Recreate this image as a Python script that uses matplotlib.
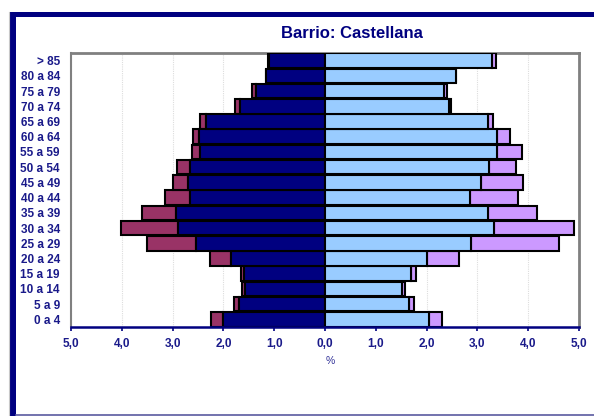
import matplotlib
matplotlib.use("Agg")
import matplotlib.pyplot as plt
from matplotlib.patches import Rectangle
from matplotlib.lines import Line2D
import numpy as np

plt.rcParams['font.family'] = ['Liberation Sans', 'DejaVu Sans']

# Age groups, bottom to top
ages = ["0 a 4", "5 a 9", "10 a 14", "15 a 19", "20 a 24", "25 a 29", "30 a 34",
        "35 a 39", "40 a 44", "45 a 49", "50 a 54", "55 a 59", "60 a 64",
        "65 a 69", "70 a 74", "75 a 79", "80 a 84", "> 85"]

# Men: inner (dark blue) and total (dark blue + maroon), %
men_inner = [2.01, 1.69, 1.57, 1.59, 1.86, 2.54, 2.89, 2.93, 2.66, 2.69, 2.66,
             2.46, 2.48, 2.34, 1.67, 1.36, 1.16, 1.10]
men_total = [2.25, 1.79, 1.63, 1.66, 2.26, 3.51, 4.02, 3.61, 3.14, 3.00, 2.92,
             2.62, 2.60, 2.46, 1.77, 1.44, 1.17, 1.12]

# Women: inner (light blue) and total (light blue + lilac), %
women_inner = [2.05, 1.66, 1.51, 1.69, 2.01, 2.87, 3.33, 3.20, 2.85, 3.08, 3.22,
               3.38, 3.38, 3.20, 2.45, 2.34, 2.58, 3.28]
women_total = [2.31, 1.76, 1.57, 1.80, 2.64, 4.61, 4.90, 4.17, 3.79, 3.89, 3.75,
               3.87, 3.64, 3.30, 2.48, 2.41, 2.58, 3.37]

xticks = [-5, -4, -3, -2, -1, 0, 1, 2, 3, 4, 5]
xticklabels = ["5,0", "4,0", "3,0", "2,0", "1,0", "0,0", "1,0", "2,0", "3,0", "4,0", "5,0"]

title = "Barrio: Castellana"

W, H = 594, 416
fig = plt.figure(figsize=(W / 100, H / 100), dpi=100)
fig.patch.set_facecolor('white')

navy = '#000080'
txt = '#1a1a8a'

# Frame decoration
fig.add_artist(Rectangle((10 / W, 0), 6 / W, 1 - 11.5 / H, transform=fig.transFigure,
                         facecolor=navy, edgecolor='none'))
fig.add_artist(Rectangle((10 / W, 1 - 17.3 / H), 1, 5.8 / H, transform=fig.transFigure,
                         facecolor=navy, edgecolor='none'))
fig.add_artist(Line2D([16 / W, 1], [1 - 414.7 / H, 1 - 414.7 / H], transform=fig.transFigure,
                      color='#5a5aa0', lw=1.2))
fig.add_artist(Line2D([9.2 / W, 9.2 / W], [0, 1 - 12 / H], transform=fig.transFigure,
                      color='#c8c8c8', lw=0.8))

ax = fig.add_axes([71 / W, 1 - 327 / H, (579 - 71) / W, (327 - 53) / H])

y = np.arange(len(ages))
mi = np.array(men_inner)
mt = np.array(men_total)
wi = np.array(women_inner)
wt = np.array(women_total)

h = 0.96
lw = 1.5
ax.barh(y, -(mt - mi), left=-mi, height=h, color='#993366', edgecolor='black', linewidth=lw, zorder=3)
ax.barh(y, -mi, height=h, color=navy, edgecolor='black', linewidth=lw, zorder=3)
ax.barh(y, wt - wi, left=wi, height=h, color='#CC99FF', edgecolor='black', linewidth=lw, zorder=3)
ax.barh(y, wi, height=h, color='#99CCFF', edgecolor='black', linewidth=lw, zorder=3)

ax.set_xlim(-5, 5)
ax.set_ylim(-0.5, len(ages) - 0.5)
ax.set_xticks(xticks)
ax.set_xticklabels(xticklabels, fontsize=8.5, fontweight='bold', color=txt)
ax.set_yticks(y)
ax.set_yticklabels(ages, fontsize=8.5, fontweight='bold', color=txt)
ax.tick_params(axis='y', length=0, pad=8)
ax.tick_params(axis='x', length=3, width=1.2, color=navy, pad=5)

ax.grid(axis='x', color='#dddddd', linestyle=(0, (1, 1)), linewidth=0.8, zorder=0)
ax.set_axisbelow(True)

for s in ['top', 'right', 'left']:
    ax.spines[s].set_color('#808080')
    ax.spines[s].set_linewidth(2)
ax.spines['left'].set_linewidth(1.5)
ax.spines['bottom'].set_color(navy)
ax.spines['bottom'].set_linewidth(1.8)
ax.spines['bottom'].set_zorder(5)

fig.text(352 / W, 1 - 33 / H, title, ha='center', va='center', fontsize=12,
         fontweight='bold', color=navy)
fig.text(330 / W, 1 - 361 / H, "%", ha='center', va='center', fontsize=7.5, color='#333399')

fig.savefig("out.png", dpi=100)
